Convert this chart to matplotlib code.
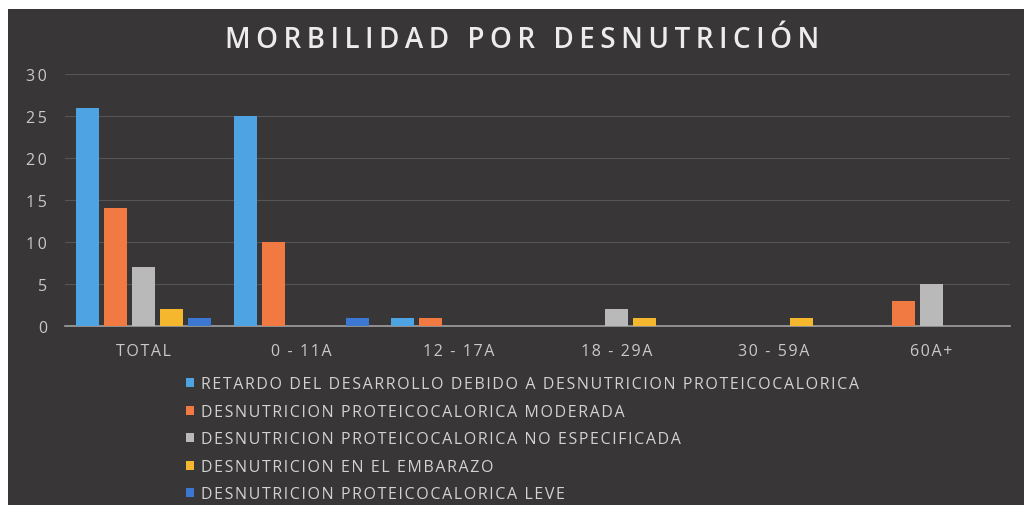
import numpy as np
import matplotlib.pyplot as plt
from matplotlib.patches import Rectangle

# datos
grupos = ['TOTAL', '0 - 11A', '12 - 17A', '18 - 29A', '30 - 59A', '60A+']
series = [
    'RETARDO DEL DESARROLLO DEBIDO A DESNUTRICION PROTEICOCALORICA',
    'DESNUTRICION PROTEICOCALORICA MODERADA',
    'DESNUTRICION PROTEICOCALORICA NO ESPECIFICADA',
    'DESNUTRICION EN EL EMBARAZO',
    'DESNUTRICION PROTEICOCALORICA LEVE',
]
retardo = [26, 25, 1, 0, 0, 0]
moderada = [14, 10, 1, 0, 0, 3]
no_especificada = [7, 0, 0, 2, 0, 5]
embarazo = [2, 0, 0, 1, 1, 0]
leve = [1, 1, 0, 0, 0, 0]
valores = [retardo, moderada, no_especificada, embarazo, leve]

colores = ['#4ea3e2', '#f07a42', '#b9b9b9', '#f4b72d', '#3c78d2']
fondo = '#383636'

plt.rcParams['font.family'] = ['Open Sans', 'DejaVu Sans']

def espaciar(texto, esp='\u2009'):
    # separacion entre letras como en el original
    return esp.join(texto)

fig = plt.figure(figsize=(10.24, 5.06), dpi=100, facecolor='white')
fig.patches.append(Rectangle((8/1024, 0), 1, 1 - 10/506, transform=fig.transFigure,
                             facecolor=fondo, edgecolor='none', zorder=-10))

ax = fig.add_axes([65/1024, 1 - 327/506, 945/1024, 252/506])
ax.set_facecolor('none')

x = np.arange(len(grupos))
ancho = 0.146
paso = 0.178
for i, (vals, col, nom) in enumerate(zip(valores, colores, series)):
    ax.bar(x + (i - 2) * paso, vals, width=ancho, color=col,
           label=espaciar(nom, '\u200a'), zorder=3)

ax.set_xlim(-0.5, len(grupos) - 0.5)
ax.set_ylim(0, 30)
ax.set_yticks(range(0, 31, 5))
ax.set_yticklabels([espaciar(str(v)) for v in range(0, 31, 5)])
ax.set_xticks(x)
ax.set_xticklabels([espaciar(g, '\u200a') for g in grupos])
ax.tick_params(axis='both', length=0, colors='#c9c9c9', labelsize=11.5)
ax.tick_params(axis='y', pad=13)
ax.tick_params(axis='x', pad=12)
ax.grid(axis='y', color='#565555', linewidth=0.8, zorder=0)
for s in ['top', 'right', 'left']:
    ax.spines[s].set_visible(False)
ax.spines['bottom'].set_color('#a0a0a0')
ax.spines['bottom'].set_linewidth(1.2)

fig.text(522/1024, 1 - 41/506, espaciar('MORBILIDAD POR DESNUTRICIÓN'), ha='center', va='center',
         color='#ececec', fontsize=20, fontweight='semibold')

fig.legend(loc='upper left', bbox_to_anchor=(180/1024, 1 - 371/506), frameon=False,
           fontsize=11.5, labelcolor='#d2d2d2', handlelength=0.5, handleheight=0.5,
           handletextpad=0.4, labelspacing=0.72, borderaxespad=0)

fig.savefig('out.png', dpi=100, facecolor=fig.get_facecolor())
